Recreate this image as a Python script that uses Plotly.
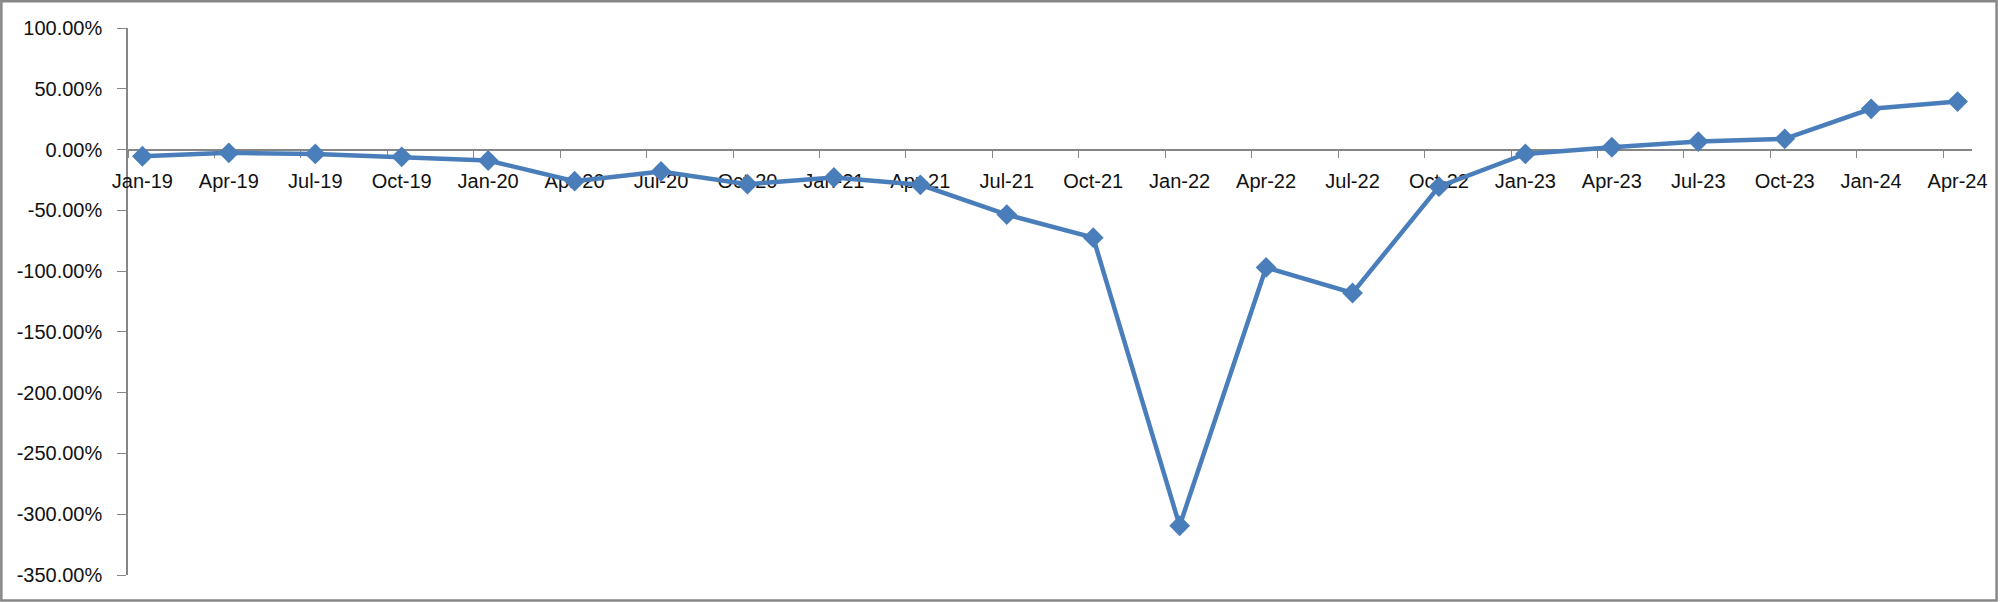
import plotly.graph_objects as go

categories = ["Jan-19", "Apr-19", "Jul-19", "Oct-19", "Jan-20", "Apr-20", "Jul-20", "Oct-20",
              "Jan-21", "Apr-21", "Jul-21", "Oct-21", "Jan-22", "Apr-22", "Jul-22", "Oct-22",
              "Jan-23", "Apr-23", "Jul-23", "Oct-23", "Jan-24", "Apr-24"]
values = [-5.5, -2.7, -3.6, -6.0, -9.0, -26.0, -18.0, -28.5,
          -23.0, -29.0, -53.5, -72.5, -309.5, -97.0, -118.0, -30.5,
          -3.6, 1.9, 6.6, 8.8, 33.5, 39.5]
month_offset = [3 * i for i in range(len(categories))]  # quarterly, in months from Jan-19
y_ticks = [100, 50, 0, -50, -100, -150, -200, -250, -300, -350]
y_ticktext = [f"{v:.2f}%" for v in y_ticks]

W, H = 2000, 602
L, R, T, B = 128, 26, 28, 27
pw, ph = W - L - R, H - T - B

axis_col = "#868686"
line_col = "#4a7ebb"
font = dict(family="Liberation Sans, Arial, sans-serif", size=20, color="#111111")

fig = go.Figure()
fig.add_trace(go.Scatter(
    x=month_offset, y=values, mode="lines+markers",
    line=dict(color=line_col, width=4.5),
    marker=dict(symbol="diamond", size=16, color=line_col),
    showlegend=False, hoverinfo="skip",
))

y_min, y_max = -350, 100
fig.update_layout(
    width=W, height=H,
    margin=dict(l=L, r=R, t=T, b=B),
    paper_bgcolor="white", plot_bgcolor="white",
    font=font,
    xaxis=dict(
        range=[-0.5, 63.5], anchor="free", position=(0 - y_min) / (y_max - y_min),
        tickmode="array", tickvals=month_offset, ticktext=categories,
        ticks="", showgrid=False, zeroline=False,
        showline=True, linecolor=axis_col, linewidth=1.5,
        ticklabelstandoff=14, layer="below traces",
        minor=dict(tick0=-0.5, dtick=3, ticks="outside", ticklen=8,
                   tickcolor=axis_col, tickwidth=1.3, showgrid=False),
        tickfont=font,
    ),
    yaxis=dict(
        range=[y_min, y_max], tickmode="array", tickvals=y_ticks, ticktext=y_ticktext,
        ticks="outside", ticklen=9, tickcolor=axis_col, tickwidth=1.3,
        showline=True, linecolor=axis_col, linewidth=1.5,
        showgrid=False, zeroline=False, ticklabelstandoff=11,
        layer="below traces", tickfont=font,
    ),
)

# outer chart border
def px_x(p):
    return (p - L) / pw

def px_y(p):
    return (H - B - p) / ph

fig.add_shape(type="rect", xref="paper", yref="paper",
              x0=px_x(1.2), x1=px_x(1998.6), y0=px_y(600.6), y1=px_y(1.2),
              line=dict(color="#878787", width=2.5), fillcolor="rgba(0,0,0,0)", layer="above")

fig.write_html("out.html", config={"displayModeBar": False},
               post_script="document.body.style.margin='0';document.body.style.overflow='hidden';")
